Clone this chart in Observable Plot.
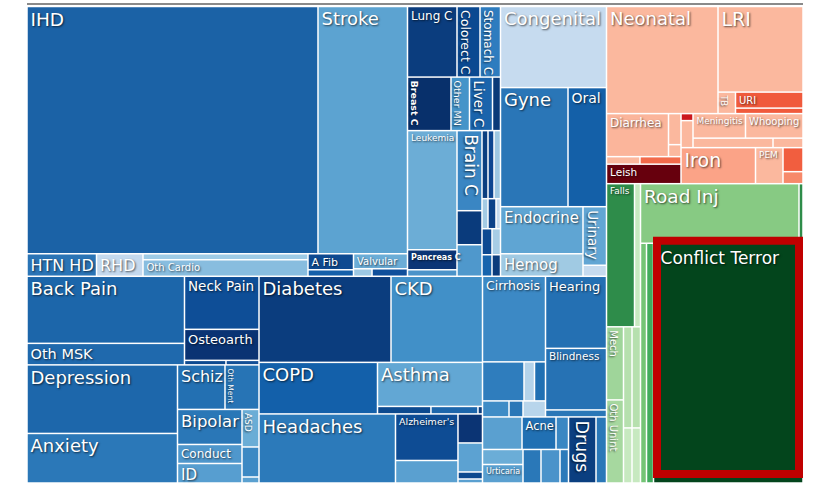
<!DOCTYPE html>
<html><head><meta charset="utf-8">
<script src="https://cdn.jsdelivr.net/npm/d3@7"></script>
<script src="https://cdn.jsdelivr.net/npm/@observablehq/plot@0.6"></script>
<style>
body{margin:0;background:#fff}
#chart svg{display:block}
#chart svg text{text-shadow:1px 1px 2px rgba(0,0,0,.65)}
</style></head><body><div id="chart"></div>
<script>
// ---- Data: [hierarchy path, value] (value = burden estimate read from the treemap areas) ----
const cardiovascular = [
  ["NCD/T/cv/r1/IHD", 7187.7],
  ["NCD/T/cv/r1/Stroke", 2210.7],
  ["NCD/T/cv/r2/HTN HD", 156.4],
  ["NCD/T/cv/r2/RHD", 104.6],
  ["NCD/T/cv/r2/oc/Cardiomyop", 99.0],
  ["NCD/T/cv/r2/oc/Oth Cardio", 272.3],
  ["NCD/T/cv/r2/af/A Fib", 72.8],
  ["NCD/T/cv/r2/af/PAD", 29.6],
  ["NCD/T/cv/r2/va/Valvular", 81.0],
  ["NCD/T/cv/r2/va/vb/Endocarditis", 13.9],
  ["NCD/T/cv/r2/va/vb/Aortic An", 26.6]
];
const neoplasms = [
  ["NCD/T/neo/r1/Lung C", 349.0],
  ["NCD/T/neo/r1/Colorect C", 162.2],
  ["NCD/T/neo/r1/Stomach C", 144.5],
  ["NCD/T/neo/r2/Breast C", 232.7],
  ["NCD/T/neo/r2/Other MN", 99.0],
  ["NCD/T/neo/r2/Liver C", 123.1],
  ["NCD/T/neo/r2/Esophag C", 42.8],
  ["NCD/T/neo/r3/a/Leukemia", 589.1],
  ["NCD/T/neo/r3/a/Pancreas C", 99.0],
  ["NCD/T/neo/r3/a/Lymphoma", 32.2],
  ["NCD/T/neo/r3/b/Brain C", 200.0],
  ["NCD/T/neo/r3/b/Prostate C", 85.0],
  ["NCD/T/neo/r3/b/Cervical C", 78.8],
  ["NCD/T/neo/r3/c/ca/Ovary C", 40.8],
  ["NCD/T/neo/r3/c/ca/Bladder C", 40.8],
  ["NCD/T/neo/r3/c/ca/Kidney C", 44.2],
  ["NCD/T/neo/r3/c/cb/Larynx C", 18.0],
  ["NCD/T/neo/r3/c/cb/Lip Oral C", 24.0],
  ["NCD/T/neo/r3/c/cb/Thyroid C", 13.5],
  ["NCD/T/neo/r3/c/cc/Nasoph C", 26.0],
  ["NCD/T/neo/r3/c/cc/Uterine C", 22.1],
  ["NCD/T/neo/r3/c/cd/Myeloma", 21.5],
  ["NCD/T/neo/r3/c/cd/Gallbl C", 18.3]
];
const otherNCD = [
  ["NCD/T/oth/Congenital", 858.6],
  ["NCD/T/oth/g/Gyne", 803.3],
  ["NCD/T/oth/g/Oral", 458.2],
  ["NCD/T/oth/e/ec/Endocrine", 387.8],
  ["NCD/T/oth/e/ec/Hemog", 185.6],
  ["NCD/T/oth/e/uc/Urinary", 137.5],
  ["NCD/T/oth/e/uc/Oth NCD", 25.9]
];
const musculoskeletal = [
  ["NCD/B/mm/msk/bc/Back Pain", 1055.3],
  ["NCD/B/mm/msk/bc/Oth MSK", 338.6],
  ["NCD/B/mm/msk/nc/Neck Pain", 394.9],
  ["NCD/B/mm/msk/nc/Osteoarth", 231.0],
  ["NCD/B/mm/msk/nc/sr/Rheum Arth", 18.7],
  ["NCD/B/mm/msk/nc/sr/Gout", 14.9]
];
const mental = [
  ["NCD/B/mm/men/dc/Depression", 1030.9],
  ["NCD/B/mm/men/dc/Anxiety", 745.0],
  ["NCD/B/mm/men/m2/sr/Schiz", 211.4],
  ["NCD/B/mm/men/m2/sr/Oth Ment", 151.3],
  ["NCD/B/mm/men/m2/lr/bp/Bipolar", 225.8],
  ["NCD/B/mm/men/m2/lr/bp/Conduct", 122.6],
  ["NCD/B/mm/men/m2/lr/bp/ID", 125.8],
  ["NCD/B/mm/men/m2/lr/ac/ASD", 63.8],
  ["NCD/B/mm/men/m2/lr/ac/ADHD", 51.0],
  ["NCD/B/mm/men/m2/lr/ac/Eating Dis", 10.2]
];
const metabolicRespNeuro = [
  ["NCD/B/mid/dr/Diabetes", 1135.2],
  ["NCD/B/mid/dr/CKD", 786.9],
  ["NCD/B/mid/rr/COPD", 610.3],
  ["NCD/B/mid/rr/ac/Asthma", 462.0],
  ["NCD/B/mid/rr/ac/sr/ILD", 40.1],
  ["NCD/B/mid/rr/ac/sr/Pneumocon", 35.3],
  ["NCD/B/mid/rr/ac/sr/Oth Resp", 3.4],
  ["NCD/B/mid/nr/Headaches", 941.9],
  ["NCD/B/mid/nr/az/Alzheimer's", 290.6],
  ["NCD/B/mid/nr/az/Oth Neuro", 140.6],
  ["NCD/B/mid/nr/nx/Epilepsy", 71.1],
  ["NCD/B/mid/nr/nx/Parkinson's", 71.1],
  ["NCD/B/mid/nr/nx/MS", 17.2],
  ["NCD/B/mid/nr/nx/MND", 9.8]
];
const digestiveSenseSkin = [
  ["NCD/B/rt/up/dg/Cirrhosis", 538.7],
  ["NCD/B/rt/up/dg/r2/Upper GI", 161.9],
  ["NCD/B/rt/up/dg/r2/Pancreatitis", 41.0],
  ["NCD/B/rt/up/dg/r2/Gallbladder", 42.9],
  ["NCD/B/rt/up/dg/r3/IBD", 42.4],
  ["NCD/B/rt/up/dg/r3/Appendicitis", 22.4],
  ["NCD/B/rt/up/dg/r3/Hernia", 36.0],
  ["NCD/B/rt/up/se/Hearing", 439.2],
  ["NCD/B/rt/up/se/Blindness", 375.2],
  ["NCD/B/rt/up/se/Oth Sense", 42.7],
  ["NCD/B/rt/lo/sk/r1/Dermatitis", 128.4],
  ["NCD/B/rt/lo/sk/r1/Acne", 110.5],
  ["NCD/B/rt/lo/sk/r1/Psoriasis", 40.6],
  ["NCD/B/rt/lo/sk/r2/lc/Pruritus", 60.8],
  ["NCD/B/rt/lo/sk/r2/lc/Urticaria", 74.9],
  ["NCD/B/rt/lo/sk/r2/Fungal Skin", 60.3],
  ["NCD/B/rt/lo/sk/r2/Bact Skin", 63.7],
  ["NCD/B/rt/lo/sk/r2/Oth Skin", 28.5],
  ["NCD/B/rt/lo/Drugs", 181.5],
  ["NCD/B/rt/lo/Alcohol", 69.3]
];
const communicable = [
  ["R/ct/Neonatal", 1193.1],
  ["R/ct/lc/LRI", 726.8],
  ["R/ct/lc/rw/TB", 37.6],
  ["R/ct/lc/rw/uc/URI", 108.0],
  ["R/ct/lc/rw/uc/Otitis", 37.1],
  ["R/cr/lr/dr/Diarrhea", 266.6],
  ["R/cr/lr/dr/col/Typhoid", 38.8],
  ["R/cr/lr/dr/col/Intest Inf", 15.0],
  ["R/cr/lr/sr/Hepatitis", 25.1],
  ["R/cr/lr/sr/Measles", 30.8],
  ["R/cr/lr/Leish", 145.3],
  ["R/cr/rr/up/c1/Malaria", 8.4],
  ["R/cr/rr/up/c1/HIV", 32.4],
  ["R/cr/rr/up/mw/row/Meningitis", 128.6],
  ["R/cr/rr/up/mw/row/Whooping", 140.9],
  ["R/cr/rr/up/mw/sr/Encephalitis", 76.0],
  ["R/cr/rr/up/mw/sr/Tetanus", 28.5],
  ["R/cr/rr/lo/Iron", 268.2],
  ["R/cr/rr/lo/PEM", 99.0],
  ["R/cr/rr/lo/rc/Oth Nutr", 48.0],
  ["R/cr/rr/lo/rc/Maternal", 24.0]
];
const injuries = [
  ["R/inj/fc/fr/Falls", 400.4],
  ["R/inj/fc/fr/Drowning", 85.8],
  ["R/inj/fc/lr/mc/Mech", 124.1],
  ["R/inj/fc/lr/mc/Oth Unint", 141.1],
  ["R/inj/fc/lr/c2/Fire", 85.9],
  ["R/inj/fc/lr/c2/Poisoning", 46.8],
  ["R/inj/fc/lr/c3/Animal", 85.9],
  ["R/inj/fc/lr/c3/Foreign Body", 46.8],
  ["R/inj/rc/rr/Road Inj", 943.1],
  ["R/inj/rc/rr/Self-harm", 23.8],
  ["R/inj/rc/cr/Interpers", 143.7],
  ["R/inj/rc/cr/Exec", 167.7],
  ["R/inj/rc/cr/Conflict Terror", 3580.5]
];

// ---- Styles ----
const colors = {
  "IHD":"#1b62a6","Stroke":"#5ca3d1","HTN HD":"#2a74b6","RHD":"#c4d9ee","Cardiomyop":"#9ecbe6","Oth Cardio":"#88bddf",
  "A Fib":"#0e4a91","PAD":"#1560aa","Valvular":"#6badd7","Endocarditis":"#9dc8e3","Aortic An":"#0f4f9b",
  "Lung C":"#0b3d7e","Colorect C":"#0b4991","Stomach C":"#2e7cbf","Breast C":"#08306b","Other MN":"#4594c9","Liver C":"#1a64ac","Esophag C":"#0a3a78",
  "Leukemia":"#6cadd6","Pancreas C":"#0b3576","Lymphoma":"#4b93c9","Brain C":"#3a86c3","Prostate C":"#0a3b7c","Cervical C":"#4f98cc",
  "Ovary C":"#0b3f80","Bladder C":"#0d4690","Kidney C":"#9ec8e2","Larynx C":"#a4cbe4","Lip Oral C":"#0c4289","Thyroid C":"#c6dbef",
  "Nasoph C":"#0d4a92","Uterine C":"#a7cde5","Myeloma":"#1764ad","Gallbl C":"#0b3c7c",
  "Congenital":"#c6dbef","Gyne":"#2a76b7","Oral":"#1460a8","Endocrine":"#5fa5d3","Hemog":"#a0cae3","Urinary":"#62a6d4","Oth NCD":"#c6dbef",
  "Back Pain":"#1c66aa","Oth MSK":"#1f69ad","Neck Pain":"#0e4e97","Osteoarth":"#0a3373","Rheum Arth":"#0d4a90","Gout":"#134f96",
  "Depression":"#1d67ab","Anxiety":"#2b78b8","Schiz":"#2370b2","Oth Ment":"#2774b5","Bipolar":"#2a77b7","Conduct":"#4f97cc","ID":"#579ed0",
  "ASD":"#6aadd6","ADHD":"#3c89c4","Eating Dis":"#5aa0d0",
  "Diabetes":"#0b3d7e","CKD":"#4190c8","COPD":"#1360aa","Asthma":"#62a7d4","ILD":"#0d4a8f","Pneumocon":"#1d66ab","Oth Resp":"#0b3d7e",
  "Headaches":"#2c7aba","Alzheimer's":"#0e4c94","Oth Neuro":"#5aa0d0","Epilepsy":"#0b3474","Parkinson's":"#5ca2d2","MS":"#0d4a8f","MND":"#5aa0d0",
  "Cirrhosis":"#3c89c5","Upper GI":"#2f7dbd","Pancreatitis":"#b4d3ea","Gallbladder":"#2070b3","IBD":"#3f8cc6","Appendicitis":"#2a77b7","Hernia":"#b8d5eb",
  "Hearing":"#2470b3","Blindness":"#2672b4","Oth Sense":"#2a77b7",
  "Dermatitis":"#5aa0d0","Acne":"#2170b3","Psoriasis":"#3a87c3","Pruritus":"#6badd7","Urticaria":"#5aa0d0","Fungal Skin":"#2a78b8",
  "Bact Skin":"#4a93ca","Oth Skin":"#2c7aba","Drugs":"#0b3f80","Alcohol":"#2a78b8",
  "Neonatal":"#fbb89e","LRI":"#fbb89e","TB":"#fbb89e","URI":"#f05a3c","Otitis":"#f05a3c","Diarrhea":"#fbb59b","Typhoid":"#fbb89e",
  "Intest Inf":"#fbb89e","Hepatitis":"#fbb89e","Measles":"#f26a4a","Leish":"#67000d","Malaria":"#cb181d","HIV":"#fbb89e",
  "Meningitis":"#fbb89e","Whooping":"#fbb89e","Encephalitis":"#fbb89e","Tetanus":"#fbb89e","Iron":"#fba387","PEM":"#fbb89e",
  "Oth Nutr":"#f15e3f","Maternal":"#f7896a",
  "Falls":"#2e8c4a","Drowning":"#c7e9c0","Mech":"#9fd59a","Oth Unint":"#a6d89f","Fire":"#b6e0ae","Poisoning":"#c7e9c0",
  "Animal":"#b6e0ae","Foreign Body":"#c7e9c0","Road Inj":"#87ca83","Self-harm":"#2e8c4a","Interpers":"#74c476","Exec":"#41ab5d",
  "Conflict Terror":"#03451c"
};
const labelSize = {
  "IHD":18.5,"Stroke":18,"HTN HD":16,"RHD":16,"Oth Cardio":10,"A Fib":11,"Valvular":10,
  "Lung C":12,"Colorect C":12.5,"Stomach C":12,"Breast C":9.5,"Other MN":9.5,"Liver C":13.5,"Leukemia":9,"Pancreas C":8,"Brain C":17,
  "Congenital":18,"Gyne":18,"Oral":14,"Endocrine":15,"Hemog":15,"Urinary":13.5,
  "Back Pain":18,"Oth MSK":14.5,"Neck Pain":13.5,"Osteoarth":13,"Depression":18,"Anxiety":18,"Schiz":16,"Oth Ment":7.5,
  "Bipolar":16.5,"ASD":9,"Conduct":12,"ID":15,
  "Diabetes":18,"CKD":18,"COPD":18,"Asthma":18,"Headaches":18,"Alzheimer's":9.5,
  "Cirrhosis":12.5,"Hearing":13,"Blindness":10.5,"Acne":11.5,"Urticaria":8,"Drugs":17.5,
  "Neonatal":18,"LRI":19,"TB":8,"URI":10,"Diarrhea":12,"Meningitis":9,"Whooping":10,"Iron":19,"PEM":9,"Leish":10.5,
  "Falls":9,"Road Inj":18.5,"Conflict Terror":17,"Mech":10,"Oth Unint":10
};
const verticalLabels = new Set(["Colorect C","Stomach C","Breast C","Other MN","Liver C","Brain C","Urinary","Oth Ment","ASD","Drugs","TB","Mech","Oth Unint"]);
const boldLabels = new Set(["Breast C","Pancreas C"]);
const labelNudge = {"Conflict Terror": [3.5, 3], "Brain C": [2, 0], "Drugs": [1.5, 0]};

// ---- Build hierarchy (order preserved) and lay it out ----
function buildTree(rows) {
  const root = {name: "All causes", children: []};
  for (const [path, value] of rows) {
    const parts = path.split("/");
    let node = root;
    for (const key of parts.slice(0, -1)) {
      let child = node.children.find(c => c.name === key && c.children);
      if (!child) node.children.push(child = {name: key, children: []});
      node = child;
    }
    node.children.push({name: parts[parts.length - 1], value});
  }
  return root;
}
const rows = [...cardiovascular, ...neoplasms, ...otherNCD, ...musculoskeletal, ...mental,
  ...metabolicRespNeuro, ...digestiveSenseSkin, ...communicable, ...injuries];
const W = 776, H = 476;
const root = d3.treemap().tile(d3.treemapSliceDice).size([W, H])(
  d3.hierarchy(buildTree(rows)).sum(d => d.children ? 0 : d.value));
const cells = root.leaves().map(n => ({name: n.data.name, value: n.data.value, x0: n.x0, x1: n.x1, y0: n.y0, y1: n.y1}));
const labels = cells.filter(c => c.name in labelSize).map(c => {
  const s = labelSize[c.name], v = verticalLabels.has(c.name);
  const [nx, ny] = labelNudge[c.name] ?? [0, 0];
  return {...c, size: s, vertical: v, bold: boldLabels.has(c.name),
    lx: (v ? c.x0 + 0.3 * s : c.x0 + 3) + nx,
    ly: (v ? c.y0 + 3 : c.y0 + 2 + 0.2 * s) + ny};
});
const textOpts = {x: "lx", y: "ly", text: "name", fontSize: d => d.size, fill: "white", fontFamily: "DejaVu Sans", textAnchor: "start"};

const chart = Plot.plot({
  width: 813, height: 487, margin: 0,
  x: {domain: [0, W], range: [27, 803], axis: null},
  y: {domain: [0, H], range: [6.5, 483], axis: null},
  color: {type: "identity"},
  style: {background: "white", fontFamily: "DejaVu Sans"},
  marks: [
    Plot.ruleY([-3], {x1: 0, x2: W, stroke: "#8a8a8a", strokeWidth: 2}),
    Plot.rect(cells, {x1: "x0", x2: "x1", y1: "y0", y2: "y1", fill: d => colors[d.name] ?? "#9ecae1", inset: 0.75}),
    Plot.rect(cells.filter(d => d.name === "Conflict Terror"), {x1: "x0", x2: "x1", y1: "y0", y2: "y1", fill: "none",
      stroke: "#c00000", strokeWidth: 8, insetLeft: 3.5, insetRight: 4, insetTop: -2.5, insetBottom: 9}),
    Plot.text(labels.filter(d => !d.vertical && !d.bold), {...textOpts, lineAnchor: "top"}),
    Plot.text(labels.filter(d => !d.vertical && d.bold), {...textOpts, lineAnchor: "top", fontWeight: "bold"}),
    Plot.text(labels.filter(d => d.vertical && !d.bold), {...textOpts, lineAnchor: "bottom", rotate: 90}),
    Plot.text(labels.filter(d => d.vertical && d.bold), {...textOpts, lineAnchor: "bottom", rotate: 90, fontWeight: "bold"})
  ]
});
document.getElementById("chart").append(chart);
</script></body></html>
